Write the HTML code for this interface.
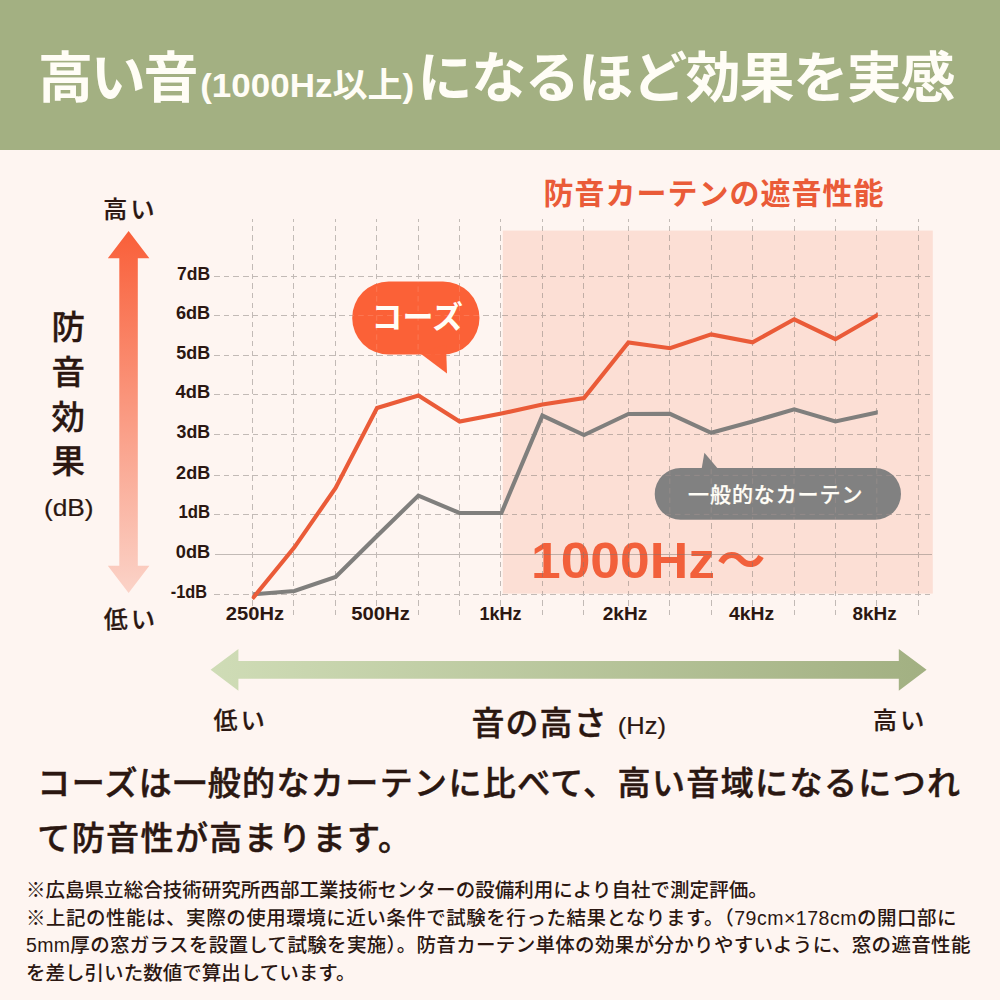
<!DOCTYPE html>
<html lang="ja"><head><meta charset="utf-8"><title>防音カーテンの遮音性能</title>
<style>
html,body{margin:0;padding:0;background:#fef5f1;}
#wrap{position:relative;width:1000px;height:1000px;overflow:hidden;background:#fef5f1;font-family:"Liberation Sans","Noto Sans CJK JP",sans-serif;}
#wrap svg{position:absolute;left:0;top:0;display:block;}
#wrap svg text{font-family:"Liberation Sans","Noto Sans CJK JP",sans-serif;}
</style></head>
<body><div id="wrap">
<svg width="1000" height="1000" viewBox="0 0 1000 1000"><defs><linearGradient id="gv" x1="0" y1="231" x2="0" y2="593" gradientUnits="userSpaceOnUse"><stop offset="0" stop-color="#f95f39"/><stop offset="1" stop-color="#fbd3c8"/></linearGradient><linearGradient id="gh" x1="210" y1="0" x2="927" y2="0" gradientUnits="userSpaceOnUse"><stop offset="0" stop-color="#cfdcb6"/><stop offset="1" stop-color="#a2b082"/></linearGradient><clipPath id="cbo"><rect x="352.2" y="281.4" width="127.3" height="73.2" rx="36.6"/></clipPath><clipPath id="cbg"><rect x="654.7" y="468" width="246.3" height="51.8" rx="25.9"/></clipPath><clipPath id="cln"><rect x="251.6" y="200" width="626.2" height="420"/></clipPath></defs><rect x="0" y="0" width="1000" height="150" fill="#a3b082"/>
<rect x="502.8" y="230.6" width="430" height="363" fill="#fcdfd5"/>
<path d="M128.6 231.0L149.4 258.3L137.8 258.3L137.8 565.7L149.4 565.7L128.6 593.0L107.8 565.7L119.3 565.7L119.3 258.3L107.8 258.3Z" fill="url(#gv)"/>
<path d="M210.6 669.8L238.4 648.9L238.4 660.9L898.8 660.9L898.8 648.9L926.6 669.8L898.8 690.7L898.8 678.7L238.4 678.7L238.4 690.7Z" fill="url(#gh)"/>
<text x="531" y="577.8" font-size="49.6" font-weight="bold" fill="#f2603b" textLength="184" lengthAdjust="spacingAndGlyphs">1000Hz</text>
<text x="716.4" y="577.6" font-size="49" font-weight="bold" fill="#f2603b">〜</text>
<g id="grid" fill="none" stroke="#7d7571" stroke-width="1" opacity="0.46" shape-rendering="crispEdges"><path d="M252.5 219.2V618M293.9 219.2V618M335.3 219.2V618M376.7 219.2V618M418.1 219.2V618M459.5 219.2V618M500.9 219.2V618M542.3 219.2V618M583.7 219.2V618M628.4 219.2V618M669.8 219.2V618M711.2 219.2V618M752.6 219.2V618M794.0 219.2V618M835.4 219.2V618M876.8 219.2V618M918.2 219.2V618" stroke-dasharray="5.5 4.1" stroke-dashoffset="3.1"/><path d="M214.2 276.0H932M214.2 315.5H932M214.2 355.0H932M214.2 394.6H932M214.2 434.5H932M214.2 475.4H932M214.2 514.4H932M214.2 594.0H932" stroke-dasharray="5.6 4" stroke-dashoffset="0"/><path d="M214.5 554.3H932" stroke-width="1"/></g>
<g clip-path="url(#cln)" fill="none" stroke-width="4.1" stroke-linejoin="miter"><path d="M253.2 594.3L294.4 591.0L335.6 577.0L377.0 536.0L418.4 495.6L459.6 513.0L501.4 513.0L542.4 415.6L584.0 435.0L628.4 414.0L670.0 413.8L711.2 432.8L752.6 421.5L794.2 409.3L835.4 421.5L877.0 412.4L881.0 411.5" stroke="#807f7d"/><path d="M252.3 598.8L294.4 547.3L335.6 488.0L377.0 408.0L418.4 395.6L459.6 421.6L501.4 413.5L542.4 404.5L584.0 398.0L628.4 342.4L670.0 348.2L711.2 334.4L752.6 342.3L794.2 319.3L835.4 339.2L877.0 315.2L881.0 312.9" stroke="#ea5b38"/></g>
<g fill="#fb6238"><rect x="352.2" y="281.4" width="127.3" height="73.2" rx="36.6"/><path d="M418.4 352L447 373.5L446 345Z"/></g>
<g fill="#828181"><rect x="654.7" y="468" width="246.3" height="51.8" rx="25.9"/><path d="M701.4 470L704.4 452.8L719 470Z"/></g>
<g fill="none" stroke-width="0.8" stroke-dasharray="5.5 4.1"><g clip-path="url(#cbo)" stroke="#ffc2ad" opacity="0.28"><path d="M252.5 219.2V618M293.9 219.2V618M335.3 219.2V618M376.7 219.2V618M418.1 219.2V618M459.5 219.2V618M500.9 219.2V618M542.3 219.2V618M583.7 219.2V618M628.4 219.2V618M669.8 219.2V618M711.2 219.2V618M752.6 219.2V618M794.0 219.2V618M835.4 219.2V618M876.8 219.2V618M918.2 219.2V618"/><path d="M214.2 276.0H932M214.2 315.5H932M214.2 355.0H932M214.2 394.6H932M214.2 434.5H932M214.2 475.4H932M214.2 514.4H932M214.2 594.0H932"/></g><g clip-path="url(#cbg)" stroke="#c9aaa2" opacity="0.3"><path d="M252.5 219.2V618M293.9 219.2V618M335.3 219.2V618M376.7 219.2V618M418.1 219.2V618M459.5 219.2V618M500.9 219.2V618M542.3 219.2V618M583.7 219.2V618M628.4 219.2V618M669.8 219.2V618M711.2 219.2V618M752.6 219.2V618M794.0 219.2V618M835.4 219.2V618M876.8 219.2V618M918.2 219.2V618"/><path d="M214.2 276.0H932M214.2 315.5H932M214.2 355.0H932M214.2 394.6H932M214.2 434.5H932M214.2 475.4H932M214.2 514.4H932M214.2 594.0H932"/></g></g>
<text x="38" y="97" font-size="55" font-weight="bold" fill="#fffdf6" textLength="160.5">高い音</text>
<text x="200.2" y="97" font-size="34" font-weight="bold" fill="#fffdf6" textLength="214" lengthAdjust="spacingAndGlyphs">(1000Hz以上)</text>
<text x="417.5" y="97" font-size="55" font-weight="bold" fill="#fffdf6" textLength="538">になるほど効果を実感</text>
<text x="543.4" y="203.8" font-size="30" font-weight="bold" fill="#ea5b38" textLength="340">防音カーテンの遮音性能</text>
<text x="103.2" y="217.8" font-size="24" font-weight="500" fill="#2b1711" stroke="#2b1711" stroke-width="0.24" textLength="51.2">高い</text>
<text x="103.8" y="627.5" font-size="24" font-weight="500" fill="#2b1711" stroke="#2b1711" stroke-width="0.24" textLength="51.2">低い</text>
<text x="51.4" y="338.7" font-size="33.5" font-weight="500" fill="#2b1711" stroke="#2b1711" stroke-width="0.33">防</text>
<text x="51.4" y="383.6" font-size="33.5" font-weight="500" fill="#2b1711" stroke="#2b1711" stroke-width="0.33">音</text>
<text x="51.4" y="428.5" font-size="33.5" font-weight="500" fill="#2b1711" stroke="#2b1711" stroke-width="0.33">効</text>
<text x="51.4" y="473.4" font-size="33.5" font-weight="500" fill="#2b1711" stroke="#2b1711" stroke-width="0.33">果</text>
<text x="43.9" y="516.2" font-size="24" font-weight="500" fill="#2b1711" stroke="#2b1711" stroke-width="0.19" textLength="49.7" lengthAdjust="spacingAndGlyphs">(dB)</text>
<g font-size="18" font-weight="bold" fill="#2b1711">
<text x="177" y="279.5" textLength="33.2" lengthAdjust="spacingAndGlyphs">7dB</text>
<text x="175.9" y="319" textLength="34.3" lengthAdjust="spacingAndGlyphs">6dB</text>
<text x="176.3" y="358.5" textLength="33.9" lengthAdjust="spacingAndGlyphs">5dB</text>
<text x="175.6" y="398.1" textLength="34.6" lengthAdjust="spacingAndGlyphs">4dB</text>
<text x="176.6" y="438" textLength="33.6" lengthAdjust="spacingAndGlyphs">3dB</text>
<text x="176.1" y="478.9" textLength="34.1" lengthAdjust="spacingAndGlyphs">2dB</text>
<text x="178.5" y="517.9" textLength="31.7" lengthAdjust="spacingAndGlyphs">1dB</text>
<text x="175.8" y="557.8" textLength="34.4" lengthAdjust="spacingAndGlyphs">0dB</text>
<text x="170.8" y="597.5" textLength="36.2" lengthAdjust="spacingAndGlyphs">-1dB</text>
<text x="225.8" y="620" textLength="58.3" lengthAdjust="spacingAndGlyphs">250Hz</text>
<text x="351.2" y="620" textLength="58.6" lengthAdjust="spacingAndGlyphs">500Hz</text>
<text x="479.4" y="620" textLength="42.2" lengthAdjust="spacingAndGlyphs">1kHz</text>
<text x="602.7" y="620" textLength="44.6" lengthAdjust="spacingAndGlyphs">2kHz</text>
<text x="728.9" y="620" textLength="45.2" lengthAdjust="spacingAndGlyphs">4kHz</text>
<text x="852.5" y="620" textLength="44.2" lengthAdjust="spacingAndGlyphs">8kHz</text>
</g>
<text x="371.5" y="327.9" font-size="31" font-weight="bold" fill="#fffdf6" textLength="91.5">コーズ</text>
<text x="688.1" y="502" font-size="21" font-weight="500" fill="#fffdf6" stroke="#fffdf6" stroke-width="0.25" textLength="174.3">一般的なカーテン</text>
<text x="213.5" y="729" font-size="24" font-weight="500" fill="#2b1711" stroke="#2b1711" stroke-width="0.24" textLength="51.2">低い</text>
<text x="873" y="729" font-size="24" font-weight="500" fill="#2b1711" stroke="#2b1711" stroke-width="0.24" textLength="51.2">高い</text>
<text x="471.4" y="735.4" font-size="33" font-weight="500" fill="#2b1711" stroke="#2b1711" stroke-width="0.4" textLength="135.3">音の高さ</text>
<text x="617.8" y="734.3" font-size="24" font-weight="500" fill="#2b1711" stroke="#2b1711" stroke-width="0.19" textLength="48.2" lengthAdjust="spacingAndGlyphs">(Hz)</text>
<text x="37.3" y="794.5" font-size="33" font-weight="500" fill="#2b1711" stroke="#2b1711" stroke-width="0.5" textLength="922.8">コーズは一般的なカーテンに比べて、高い音域になるにつれ</text>
<text x="37.3" y="849.6" font-size="33" font-weight="500" fill="#2b1711" stroke="#2b1711" stroke-width="0.5" textLength="373.7">て防音性が高まります。</text>
<text x="26" y="897" font-size="19.5" font-weight="500" fill="#2b1711" textLength="741.7">※広島県立総合技術研究所西部工業技術センターの設備利用により自社で測定評価。</text>
<text x="26" y="924.7" font-size="19.5" font-weight="500" fill="#2b1711" textLength="930.5">※上記の性能は、実際の使用環境に近い条件で試験を行った結果となります。（79cm×178cmの開口部に</text>
<text x="26" y="952.4" font-size="19.5" font-weight="500" fill="#2b1711" textLength="944.4">5mm厚の窓ガラスを設置して試験を実施）。防音カーテン単体の効果が分かりやすいように、窓の遮音性能</text>
<text x="26" y="980.1" font-size="19.5" font-weight="500" fill="#2b1711" textLength="329.4">を差し引いた数値で算出しています。</text>
</svg>
</div></body></html>
